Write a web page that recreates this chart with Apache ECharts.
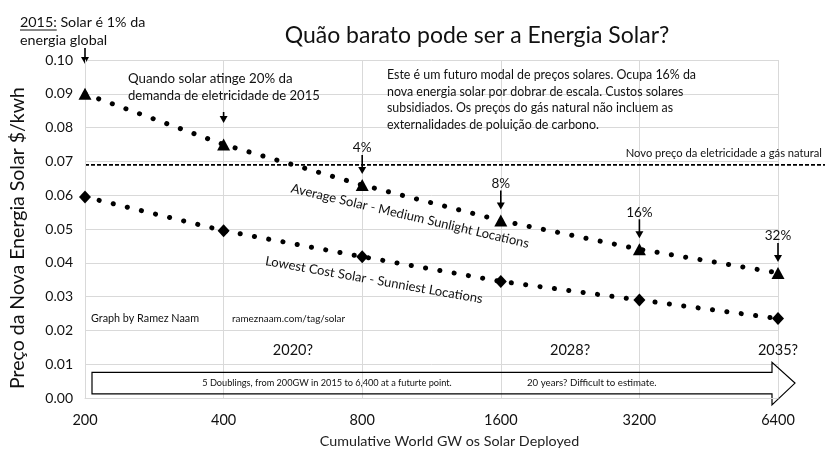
<!DOCTYPE html>
<html>
<head>
<meta charset="utf-8">
<title>Quão barato pode ser a Energia Solar?</title>
<script src="https://cdn.jsdelivr.net/npm/echarts@6/dist/echarts.min.js"></script>
<style>
  html, body { margin: 0; padding: 0; background: #fff; }
  #chart { width: 825px; height: 453px; }
</style>
</head>
<body>
<div id="chart"></div>
<script>
// capacidade acumulada (GW) - cada ponto é uma duplicação
const gwLabels = ['200', '400', '800', '1600', '3200', '6400'];
const avgSolar = [0.090, 0.075, 0.063, 0.0525, 0.044, 0.037];
const lowSolar = [0.0595, 0.0495, 0.0418, 0.0345, 0.029, 0.0235];
const gasPrice = 0.069;
// percentagens por cima dos triângulos
const shareLabels = ['', '', '4%', '8%', '16%', '32%'];
// anos estimados (posição em categorias)
const yearPos = [1.5, 3.5, 5];
const yearLabels = ['2020?', '2028?', '2035?'];

const FONT = 'Lato, "Open Sans", sans-serif';
const chart = echarts.init(document.getElementById('chart'));

const option = {
  backgroundColor: '#fff',
  animation: false,
  textStyle: { fontFamily: FONT },
  title: {
    text: 'Quão barato pode ser a Energia Solar?',
    left: 472, top: 19, textAlign: 'center',
    textStyle: { fontSize: 23, fontWeight: 'normal', color: '#111', fontFamily: FONT }
  },
  grid: { left: 80, right: 47, top: 60, bottom: 52, containLabel: false },
  xAxis: {
    type: 'category',
    data: gwLabels,
    boundaryGap: false,
    name: 'Cumulative World GW os Solar Deployed',
    nameLocation: 'middle',
    nameGap: 36,
    nameTextStyle: { fontSize: 14.3, color: '#222', padding: [0, 0, 0, 36] },
    axisLine: { lineStyle: { color: '#d9d9d9' } },
    axisTick: { show: false },
    axisLabel: { fontSize: 14.5, color: '#111', margin: 15 },
    splitLine: { show: true, interval: 0, lineStyle: { color: '#d9d9d9' } }
  },
  yAxis: {
    type: 'value',
    min: 0, max: 0.1, interval: 0.01,
    name: 'Preço da Nova Energia Solar $/kwh',
    nameLocation: 'middle',
    nameGap: 57,
    nameTextStyle: { fontSize: 19.5, color: '#111', padding: [0, 18, 0, 0] },
    axisLine: { show: true, lineStyle: { color: '#d9d9d9' } },
    axisTick: { show: false },
    axisLabel: { fontSize: 14, color: '#111', margin: 12, formatter: v => v.toFixed(2) },
    splitLine: { lineStyle: { color: '#d9d9d9' } }
  },
  series: [
    {
      name: 'Average Solar - Medium Sunlight Locations',
      type: 'line',
      data: avgSolar,
      symbol: 'triangle',
      symbolSize: [13, 12],
      itemStyle: { color: '#000' },
      lineStyle: { color: '#000', width: 5, type: [0.1, 14.4], cap: 'round' }
    },
    {
      name: 'Lowest Cost Solar - Sunniest Locations',
      type: 'line',
      data: lowSolar,
      symbol: 'diamond',
      symbolSize: [12, 13],
      itemStyle: { color: '#000' },
      lineStyle: { color: '#000', width: 5, type: [0.1, 14.4], cap: 'round' }
    }
  ]
};
chart.setOption(option);

// posição em pixels a partir dos eixos (aceita categorias fracionárias)
function px(i, v) {
  const lo = Math.floor(i), hi = Math.ceil(i);
  const a = chart.convertToPixel({ gridIndex: 0 }, [lo, v]);
  const b = chart.convertToPixel({ gridIndex: 0 }, [hi, v]);
  const t = i - lo;
  return [a[0] + (b[0] - a[0]) * t, a[1]];
}

// largura de um texto, para o sublinhado
const measureCtx = document.createElement('canvas').getContext('2d');
function textWidth(s, size) {
  measureCtx.font = size + 'px ' + FONT;
  return measureCtx.measureText(s).width;
}

// seta vertical para baixo
function arrow(x, y1, y2) {
  return {
    type: 'group',
    children: [
      { type: 'line', shape: { x1: x, y1: y1, x2: x, y2: y2 - 5 }, style: { stroke: '#000', lineWidth: 1.6 } },
      { type: 'polygon', shape: { points: [[x - 4, y2 - 7], [x + 4, y2 - 7], [x, y2]] }, style: { fill: '#000' } }
    ]
  };
}

function txt(x, y, text, size, align, extra) {
  return Object.assign({
    type: 'text',
    style: {
      x: x, y: y, text: text,
      font: size + 'px ' + FONT,
      fill: '#111',
      align: align || 'left',
      verticalAlign: 'middle'
    }
  }, extra || {});
}

const g = [];

// 2015 no canto superior esquerdo
g.push(txt(20, 22, '2015: Solar é 1% da', 14.3));
g.push({ type: 'line', shape: { x1: 20, y1: 30, x2: 20 + textWidth('2015:', 14.3), y2: 30 }, style: { stroke: '#111', lineWidth: 1 } });
g.push(txt(20, 40, 'energia global', 14.3));
const p0 = px(0, 0.1);
g.push(arrow(p0[0], 48, 64));

// 20% da demanda
g.push(txt(128, 79, 'Quando solar atinge 20% da', 13.3));
g.push(txt(128, 96, 'demanda de eletricidade de 2015', 13.1));
const p1 = px(1, avgSolar[1]);
g.push(arrow(p1[0], 112, 123));

// caixa de texto
const note = [
  'Este é um futuro modal de preços solares. Ocupa 16% da',
  'nova energia solar por dobrar de escala. Custos solares',
  'subsidiados. Os preços do gás natural não incluem as',
  'externalidades de poluição de carbono.'
];
note.forEach((s, k) => g.push(txt(387, 75 + k * 16.5, s, 12.4)));

// preço do gás natural
const pg = px(0, gasPrice);
g.push({ type: 'line', shape: { x1: pg[0], y1: pg[1], x2: 825, y2: pg[1] }, style: { stroke: '#000', lineWidth: 1.8, lineDash: [4, 2] } });
g.push(txt(822, pg[1] - 11, 'Novo preço da eletricidade a gás natural', 11.2, 'right'));

// percentagens
shareLabels.forEach((s, i) => {
  if (!s) return;
  const p = px(i, avgSolar[i]);
  g.push(arrow(p[0], p[1] - 30, p[1] - 11));
  g.push(txt(p[0], p[1] - 37, s, 13.5, 'center'));
});

// rótulos das séries ao longo das linhas
g.push(txt(0, 0, 'Average Solar - Medium Sunlight Locations', 13, 'center',
  { x: 410, y: 216, rotation: -13.2 * Math.PI / 180 }));
g.push(txt(0, 0, 'Lowest Cost Solar - Sunniest Locations', 13, 'center',
  { x: 374, y: 280, rotation: -10 * Math.PI / 180 }));

// créditos
g.push(txt(91, 319, 'Graph by Ramez Naam', 10.8));
g.push(txt(232, 319, 'rameznaam.com/tag/solar', 9.9));

// anos
yearPos.forEach((c, k) => {
  const p = px(c, 0.0142);
  g.push(txt(p[0], p[1], yearLabels[k], 14.5, 'center'));
});

// seta grande
const a0 = px(0, 0.0076);
const a1 = px(5, 0.0012);
const tipY = (a0[1] + a1[1]) / 2;
const baseX = a1[0] - 6;
g.push({
  type: 'polygon',
  shape: { points: [
    [a0[0] + 7, a0[1]], [baseX, a0[1]], [baseX, a0[1] - 10], [baseX + 23, tipY],
    [baseX, a1[1] + 11], [baseX, a1[1]], [a0[0] + 7, a1[1]]
  ] },
  style: { fill: 'none', stroke: '#000', lineWidth: 1.2 }
});
g.push(txt(327, tipY, '5 Doublings, from 200GW in 2015 to 6,400 at a futurte point.', 9.2, 'center'));
g.push(txt(527, tipY, '20 years? Difficult to estimate.', 9.7));

chart.setOption({ graphic: g });
</script>
</body>
</html>
